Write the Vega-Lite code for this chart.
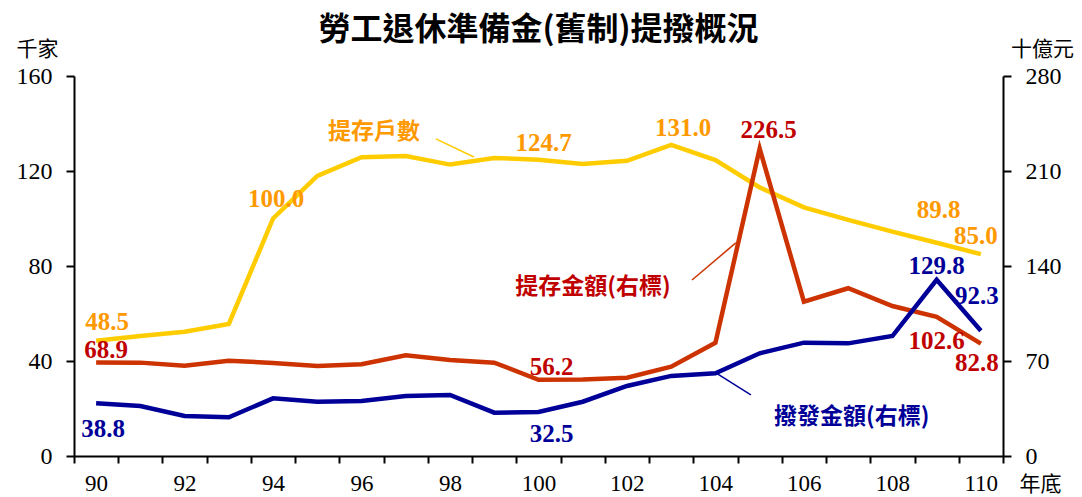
{
  "$schema": "https://vega.github.io/schema/vega-lite/v6.json",
  "width": 929,
  "height": 380,
  "autosize": "none",
  "padding": {"left": 74, "top": 76, "right": 79, "bottom": 41},
  "background": "white",
  "config": {
    "view": {"stroke": null},
    "axis": {
      "grid": false,
      "domainColor": "black",
      "domainWidth": 2,
      "tickColor": "black",
      "tickWidth": 2,
      "labelFont": "Liberation Serif, Times New Roman, serif",
      "labelFontSize": 24,
      "labelColor": "black",
      "titleFont": "Noto Sans CJK TC",
      "titleFontSize": 21,
      "titleFontWeight": "normal",
      "titleColor": "black"
    },
    "style": {"guide-label": {"font": "Liberation Serif, Times New Roman, serif"}},
    "text": {"font": "Liberation Serif", "fontSize": 25, "fontWeight": "bold", "align": "center", "baseline": "middle"}
  },
  "title": {
    "text": "勞工退休準備金(舊制)提撥概況",
    "font": "Noto Sans CJK TC",
    "fontSize": 32,
    "fontWeight": "bold",
    "color": "black",
    "anchor": "middle",
    "offset": 0,
    "dy": 9
  },
  "datasets": {
    "main": [
      {"year": 90, "hh": 48.5, "dep": 68.9, "pay": 38.8},
      {"year": 91, "hh": 50.5, "dep": 68.8, "pay": 36.8},
      {"year": 92, "hh": 52.3, "dep": 66.5, "pay": 29.5},
      {"year": 93, "hh": 55.6, "dep": 70.2, "pay": 28.5},
      {"year": 94, "hh": 100.0, "dep": 68.6, "pay": 42.5},
      {"year": 95, "hh": 117.9, "dep": 66.3, "pay": 40.0},
      {"year": 96, "hh": 125.8, "dep": 67.6, "pay": 40.5},
      {"year": 97, "hh": 126.3, "dep": 74.2, "pay": 44.2},
      {"year": 98, "hh": 122.7, "dep": 70.7, "pay": 45.0},
      {"year": 99, "hh": 125.5, "dep": 68.8, "pay": 31.9},
      {"year": 100, "hh": 124.7, "dep": 56.2, "pay": 32.5},
      {"year": 101, "hh": 122.9, "dep": 56.3, "pay": 40.0},
      {"year": 102, "hh": 124.3, "dep": 57.7, "pay": 51.6},
      {"year": 103, "hh": 131.0, "dep": 65.8, "pay": 59.0},
      {"year": 104, "hh": 124.6, "dep": 83.5, "pay": 60.9},
      {"year": 105, "hh": 113.1, "dep": 226.5, "pay": 75.7},
      {"year": 106, "hh": 104.7, "dep": 113.7, "pay": 83.5},
      {"year": 107, "hh": 99.4, "dep": 123.6, "pay": 83.0},
      {"year": 108, "hh": 94.5, "dep": 110.5, "pay": 88.4},
      {"year": 109, "hh": 89.8, "dep": 102.6, "pay": 129.8},
      {"year": 110, "hh": 85.0, "dep": 82.8, "pay": 92.3}
    ],
    "notesLeft": [
      {"year": 96.28, "v": 136.4, "t": "提存戶數"}
    ],
    "notesRight": [
      {"year": 101.23, "v": 124.2, "t": "提存金額(右標)", "s": "dep"},
      {"year": 107.08, "v": 28.7, "t": "撥發金額(右標)", "s": "pay"}
    ],
    "leadLeft": [
      {"year": 97.68, "v": 133.5, "year2": 98.54, "v2": 125.9}
    ],
    "leadRight": [
      {"year": 103.47, "v": 129.7, "year2": 104.46, "v2": 157.0, "s": "dep"},
      {"year": 104.01, "v": 61.2, "year2": 104.80, "v2": 45.0, "s": "pay"}
    ]
  },
  "encoding": {
    "x": {
      "field": "year",
      "type": "quantitative",
      "scale": {"domain": [89.5, 110.5], "nice": false, "zero": false},
      "axis": {
        "values": [89.5, 90.5, 91.5, 92.5, 93.5, 94.5, 95.5, 96.5, 97.5, 98.5, 99.5, 100.5, 101.5, 102.5, 103.5, 104.5, 105.5, 106.5, 107.5, 108.5, 109.5, 110.5],
        "labelExpr": "(datum.value + 0.5) % 2 == 0 ? format(datum.value + 0.5, 'd') : ''",
        "labelOffset": 22,
        "labelOverlap": false,
        "labelBound": false,
        "labelFlush": false,
        "labelFont": "Liberation Serif, Times New Roman, serif",
        "labelFontSize": 23,
        "tickSize": 7,
        "labelPadding": 9,
        "title": "年底",
        "titleX": 966,
        "titleY": 28,
        "titleAngle": 0,
        "titleAlign": "center",
        "titleBaseline": "middle"
      }
    }
  },
  "layer": [
    {
      "data": {"name": "main"},
      "mark": {"type": "line", "color": "#FFCC00", "strokeWidth": 4.5},
      "encoding": {
        "y": {
          "field": "hh", "type": "quantitative",
          "scale": {"domain": [0, 160], "nice": false},
          "axis": {
            "values": [0, 40, 80, 120, 160],
            "orient": "left",
            "labelFont": "Liberation Serif, Times New Roman, serif",
            "tickSize": 8,
            "labelPadding": 14,
            "title": "千家",
            "titleAngle": 0,
            "titleX": -37,
            "titleY": -27,
            "titleAlign": "center",
            "titleBaseline": "middle"
          }
        }
      }
    },
    {
      "data": {"name": "main"},
      "mark": {"type": "line", "color": "#CC3300", "strokeWidth": 4.5},
      "encoding": {
        "y": {
          "field": "dep", "type": "quantitative",
          "scale": {"domain": [0, 280], "nice": false},
          "axis": {
            "values": [0, 70, 140, 210, 280],
            "orient": "right",
            "labelFont": "Liberation Serif, Times New Roman, serif",
            "tickSize": 8,
            "labelPadding": 14,
            "title": "十億元",
            "titleAngle": 0,
            "titleX": 39,
            "titleY": -27,
            "titleAlign": "center",
            "titleBaseline": "middle"
          }
        }
      }
    },
    {
      "data": {"name": "main"},
      "mark": {"type": "line", "color": "#000099", "strokeWidth": 4.5},
      "encoding": {
        "y": {"field": "pay", "type": "quantitative", "scale": {"domain": [0, 280], "nice": false}, "axis": null}
      }
    },
    {
      "data": {"name": "leadLeft"},
      "mark": {"type": "rule", "color": "#FFCC00", "strokeWidth": 1.5},
      "encoding": {
        "x2": {"field": "year2"},
        "y": {"field": "v", "type": "quantitative", "scale": {"domain": [0, 160], "nice": false}, "axis": null},
        "y2": {"field": "v2"}
      }
    },
    {
      "data": {"name": "leadRight"},
      "transform": [{"filter": "datum.s == 'dep'"}],
      "mark": {"type": "rule", "color": "#CC3300", "strokeWidth": 1.5},
      "encoding": {
        "x2": {"field": "year2"},
        "y": {"field": "v", "type": "quantitative", "scale": {"domain": [0, 280], "nice": false}, "axis": null},
        "y2": {"field": "v2"}
      }
    },
    {
      "data": {"name": "leadRight"},
      "transform": [{"filter": "datum.s == 'pay'"}],
      "mark": {"type": "rule", "color": "#000099", "strokeWidth": 1.5},
      "encoding": {
        "x2": {"field": "year2"},
        "y": {"field": "v", "type": "quantitative", "scale": {"domain": [0, 280], "nice": false}, "axis": null},
        "y2": {"field": "v2"}
      }
    },
    {
      "data": {"name": "notesLeft"},
      "mark": {"type": "text", "color": "#FF9900", "font": "Noto Sans CJK TC", "fontSize": 23},
      "encoding": {
        "y": {"field": "v", "type": "quantitative", "scale": {"domain": [0, 160], "nice": false}, "axis": null},
        "text": {"field": "t"}
      }
    },
    {
      "data": {"name": "notesRight"},
      "transform": [{"filter": "datum.s == 'dep'"}],
      "mark": {"type": "text", "color": "#C00000", "font": "Noto Sans CJK TC", "fontSize": 23},
      "encoding": {
        "y": {"field": "v", "type": "quantitative", "scale": {"domain": [0, 280], "nice": false}, "axis": null},
        "text": {"field": "t"}
      }
    },
    {
      "data": {"name": "notesRight"},
      "transform": [{"filter": "datum.s == 'pay'"}],
      "mark": {"type": "text", "color": "#000099", "font": "Noto Sans CJK TC", "fontSize": 23},
      "encoding": {
        "y": {"field": "v", "type": "quantitative", "scale": {"domain": [0, 280], "nice": false}, "axis": null},
        "text": {"field": "t"}
      }
    },
    {"data": {"name": "main"}, "transform": [{"filter": "datum.year == 90"}], "mark": {"type": "text", "color": "#FF9900", "dx": 11, "dy": -19},
     "encoding": {"y": {"field": "hh", "type": "quantitative", "scale": {"domain": [0, 160], "nice": false}, "axis": null}, "text": {"field": "hh", "type": "quantitative", "format": ".1f"}}},
    {"data": {"name": "main"}, "transform": [{"filter": "datum.year == 94"}], "mark": {"type": "text", "color": "#FF9900", "dx": 3, "dy": -20},
     "encoding": {"y": {"field": "hh", "type": "quantitative", "scale": {"domain": [0, 160], "nice": false}, "axis": null}, "text": {"field": "hh", "type": "quantitative", "format": ".1f"}}},
    {"data": {"name": "main"}, "transform": [{"filter": "datum.year == 100"}], "mark": {"type": "text", "color": "#FF9900", "dx": 5, "dy": -17},
     "encoding": {"y": {"field": "hh", "type": "quantitative", "scale": {"domain": [0, 160], "nice": false}, "axis": null}, "text": {"field": "hh", "type": "quantitative", "format": ".1f"}}},
    {"data": {"name": "main"}, "transform": [{"filter": "datum.year == 103"}], "mark": {"type": "text", "color": "#FF9900", "dx": 12, "dy": -17},
     "encoding": {"y": {"field": "hh", "type": "quantitative", "scale": {"domain": [0, 160], "nice": false}, "axis": null}, "text": {"field": "hh", "type": "quantitative", "format": ".1f"}}},
    {"data": {"name": "main"}, "transform": [{"filter": "datum.year == 109"}], "mark": {"type": "text", "color": "#FF9900", "dx": 2, "dy": -33},
     "encoding": {"y": {"field": "hh", "type": "quantitative", "scale": {"domain": [0, 160], "nice": false}, "axis": null}, "text": {"field": "hh", "type": "quantitative", "format": ".1f"}}},
    {"data": {"name": "main"}, "transform": [{"filter": "datum.year == 110"}], "mark": {"type": "text", "color": "#FF9900", "dx": -5, "dy": -18},
     "encoding": {"y": {"field": "hh", "type": "quantitative", "scale": {"domain": [0, 160], "nice": false}, "axis": null}, "text": {"field": "hh", "type": "quantitative", "format": ".1f"}}},
    {"data": {"name": "main"}, "transform": [{"filter": "datum.year == 90"}], "mark": {"type": "text", "color": "#C00000", "dx": 10, "dy": -12},
     "encoding": {"y": {"field": "dep", "type": "quantitative", "scale": {"domain": [0, 280], "nice": false}, "axis": null}, "text": {"field": "dep", "type": "quantitative", "format": ".1f"}}},
    {"data": {"name": "main"}, "transform": [{"filter": "datum.year == 100"}], "mark": {"type": "text", "color": "#C00000", "dx": 13, "dy": -13},
     "encoding": {"y": {"field": "dep", "type": "quantitative", "scale": {"domain": [0, 280], "nice": false}, "axis": null}, "text": {"field": "dep", "type": "quantitative", "format": ".1f"}}},
    {"data": {"name": "main"}, "transform": [{"filter": "datum.year == 105"}], "mark": {"type": "text", "color": "#C00000", "dx": 9, "dy": -19},
     "encoding": {"y": {"field": "dep", "type": "quantitative", "scale": {"domain": [0, 280], "nice": false}, "axis": null}, "text": {"field": "dep", "type": "quantitative", "format": ".1f"}}},
    {"data": {"name": "main"}, "transform": [{"filter": "datum.year == 109"}], "mark": {"type": "text", "color": "#C00000", "dx": 0, "dy": 24},
     "encoding": {"y": {"field": "dep", "type": "quantitative", "scale": {"domain": [0, 280], "nice": false}, "axis": null}, "text": {"field": "dep", "type": "quantitative", "format": ".1f"}}},
    {"data": {"name": "main"}, "transform": [{"filter": "datum.year == 110"}], "mark": {"type": "text", "color": "#C00000", "dx": -4, "dy": 19},
     "encoding": {"y": {"field": "dep", "type": "quantitative", "scale": {"domain": [0, 280], "nice": false}, "axis": null}, "text": {"field": "dep", "type": "quantitative", "format": ".1f"}}},
    {"data": {"name": "main"}, "transform": [{"filter": "datum.year == 90"}], "mark": {"type": "text", "color": "#000099", "dx": 7, "dy": 26},
     "encoding": {"y": {"field": "pay", "type": "quantitative", "scale": {"domain": [0, 280], "nice": false}, "axis": null}, "text": {"field": "pay", "type": "quantitative", "format": ".1f"}}},
    {"data": {"name": "main"}, "transform": [{"filter": "datum.year == 100"}], "mark": {"type": "text", "color": "#000099", "dx": 13, "dy": 22},
     "encoding": {"y": {"field": "pay", "type": "quantitative", "scale": {"domain": [0, 280], "nice": false}, "axis": null}, "text": {"field": "pay", "type": "quantitative", "format": ".1f"}}},
    {"data": {"name": "main"}, "transform": [{"filter": "datum.year == 109"}], "mark": {"type": "text", "color": "#000099", "dx": 0, "dy": -14},
     "encoding": {"y": {"field": "pay", "type": "quantitative", "scale": {"domain": [0, 280], "nice": false}, "axis": null}, "text": {"field": "pay", "type": "quantitative", "format": ".1f"}}},
    {"data": {"name": "main"}, "transform": [{"filter": "datum.year == 110"}], "mark": {"type": "text", "color": "#000099", "dx": -4, "dy": -35},
     "encoding": {"y": {"field": "pay", "type": "quantitative", "scale": {"domain": [0, 280], "nice": false}, "axis": null}, "text": {"field": "pay", "type": "quantitative", "format": ".1f"}}}
  ],
  "resolve": {"scale": {"y": "independent"}, "axis": {"y": "independent"}}
}
